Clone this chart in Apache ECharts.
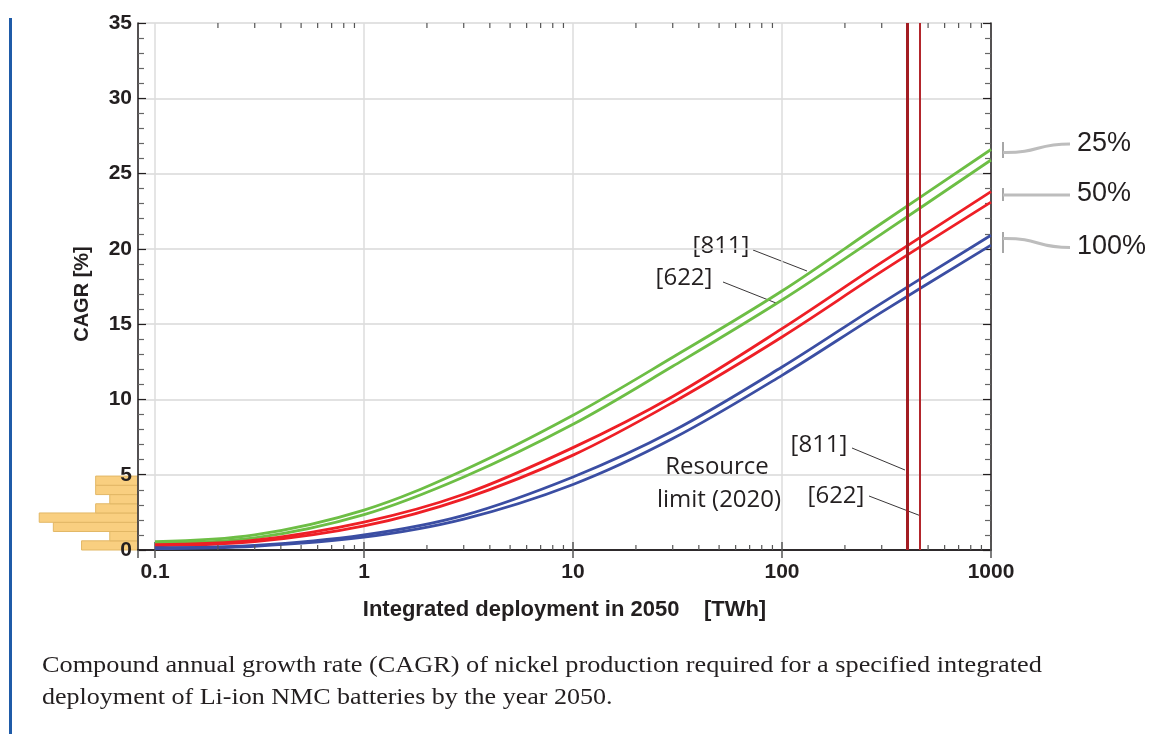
<!DOCTYPE html>
<html>
<head>
<meta charset="utf-8">
<script src="https://cdn.jsdelivr.net/npm/echarts@6/dist/echarts.min.js"></script>
<style>
html,body{margin:0;padding:0;background:#fff;}
#chart{width:1153px;height:734px;}
</style>
</head>
<body>
<div id="chart"></div>
<script>
// ---- data ----
const deployment = [0.1, 0.3, 1, 3, 10, 30, 100, 300, 1000];           // TWh
const green811 = [0.55, 1.0, 2.65, 5.3, 8.95, 12.8, 17.2, 21.7, 26.6];   // 25% (upper)
const green622 = [0.45, 0.8, 2.35, 4.85, 8.35, 12.2, 16.6, 21.0, 25.9];  // 25% (lower)
const red811   = [0.35, 0.65, 1.85, 3.7, 6.8, 10.2, 14.7, 19.1, 23.8];   // 50%
const red622   = [0.28, 0.55, 1.6, 3.4, 6.3, 9.8, 14.15, 18.5, 23.1];
const blue811  = [0.15, 0.3, 1.0, 2.3, 4.85, 7.9, 12.15, 16.4, 20.9];    // 100%
const blue622  = [0.1, 0.25, 0.85, 2.05, 4.35, 7.4, 11.6, 15.8, 20.25];
const resourceLimits = [396, 457];                 // [811], [622] resource limit (2020), TWh
const histEdges  = [0, 0.61, 1.23, 1.84, 2.46, 3.07, 3.68, 4.3, 4.91]; // CAGR bins [%]
const histCounts = [4, 2, 6, 7, 3, 2, 3, 3];
const minorXTicks = [0.2,0.3,0.4,0.5,0.6,0.7,0.8,0.9, 2,3,4,5,6,7,8,9, 20,30,40,50,60,70,80,90, 200,300,400,500,600,700,800,900];
const yTicks = { min: 0, max: 35, interval: 5 };
const xMin = 0.0829, xMax = 1000;

const INK = '#231f20';
const GREEN = '#6dbe45', RED = '#ee1f26', BLUE = '#3b4ea3';

function pairs(ys){ return deployment.map((x,i)=>[x, ys[i]]); }
function lineSeries(ys, color){
  return { type:'line', xAxisIndex:0, yAxisIndex:0, data: pairs(ys), smooth:0.35, showSymbol:false,
    lineStyle:{color:color, width:2.8}, z:3, silent:true };
}
function xLabel(v){
  const l = Math.log10(v);
  if (Math.abs(l - Math.round(l)) > 1e-6) return '';
  return v < 1 ? v.toFixed(1) : String(Math.round(v));
}

const chart = echarts.init(document.getElementById('chart'), null, {renderer:'canvas'});

const option = {
  animation: false,
  backgroundColor: '#fff',
  grid: [
    { left: 138, right: 162, top: 23, bottom: 184 },
    { left: 11, width: 127, top: 23, bottom: 184 }
  ],
  xAxis: [
    { type:'log', gridIndex:0, logBase:10, min:xMin, max:xMax, position:'bottom',
      name:'Integrated deployment in 2050    [TWh]', nameLocation:'middle', nameGap:49,
      nameTextStyle:{fontFamily:'Liberation Sans', fontWeight:'bold', fontSize:22, color:INK},
      axisLine:{show:true, lineStyle:{color:INK, width:1.5}},
      axisTick:{show:true, inside:true, length:8, lineStyle:{color:'#555', width:1.5}},
      axisLabel:{showMinLabel:false, formatter:xLabel, margin:12, fontFamily:'Liberation Sans', fontWeight:'bold', fontSize:21, color:INK},
      splitLine:{show:true, lineStyle:{color:'#dcdcdc', width:1.5}} },
    { type:'log', gridIndex:0, logBase:10, min:xMin, max:xMax, position:'top',
      axisLine:{show:true, lineStyle:{color:INK, width:1.5}},
      axisTick:{show:true, inside:true, length:8, lineStyle:{color:'#555', width:1.5}},
      axisLabel:{show:false}, splitLine:{show:false} },
    { type:'value', gridIndex:1, inverse:true, min:0, max:9, show:false }
  ],
  yAxis: [
    { type:'value', gridIndex:0, min:yTicks.min, max:yTicks.max, interval:yTicks.interval,
      name:'CAGR [%]', nameLocation:'middle', nameGap:46, nameRotate:90,
      nameTextStyle:{fontFamily:'Liberation Sans', fontWeight:'bold', fontSize:20, color:INK, padding:[0,15,0,0]},
      axisLine:{show:true, lineStyle:{color:INK, width:1.5}},
      axisTick:{show:true, inside:true, length:8, lineStyle:{color:INK, width:1.2}},
      minorTick:{show:true, splitNumber:5, length:6, lineStyle:{color:'#666', width:1.2}},
      axisLabel:{margin:6, fontFamily:'Liberation Sans', fontWeight:'bold', fontSize:21, color:INK},
      splitLine:{show:true, lineStyle:{color:'#d9d9d9', width:1.5}} },
    { type:'value', gridIndex:0, min:yTicks.min, max:yTicks.max, interval:yTicks.interval, position:'right',
      axisLine:{show:true, lineStyle:{color:INK, width:1.5}},
      axisTick:{show:true, inside:true, length:8, lineStyle:{color:INK, width:1.2}},
      minorTick:{show:true, splitNumber:5, length:6, lineStyle:{color:'#666', width:1.2}},
      axisLabel:{show:false}, splitLine:{show:false} },
    { type:'value', gridIndex:1, min:yTicks.min, max:yTicks.max, show:false }
  ],
  series: [
    // histogram to the left of the plot
    { type:'custom', xAxisIndex:2, yAxisIndex:2, z:-1, silent:true,
      data: histCounts.map((c,i)=>[c, histEdges[i], histEdges[i+1]]),
      encode:{x:0, y:[1,2]},
      renderItem:function(params, api){
        const pHi = api.coord([api.value(0), api.value(2)]);
        const pLo = api.coord([0, api.value(1)]);
        return { type:'rect',
          shape:{ x:pHi[0], y:pHi[1], width:pLo[0]-pHi[0], height:pLo[1]-pHi[1] },
          style:{ fill:'#f9cf80', stroke:'#e2b765', lineWidth:1 } };
      } },
    // minor log ticks (bottom & top)
    { type:'custom', xAxisIndex:0, yAxisIndex:0, z:4, silent:true,
      data: minorXTicks.map(v=>[v, 0]),
      renderItem:function(params, api){
        const v = api.value(0);
        const b = api.coord([v, yTicks.min]);
        const t = api.coord([v, yTicks.max]);
        return { type:'group', children:[
          { type:'line', shape:{x1:b[0], y1:b[1], x2:b[0], y2:b[1]-5}, style:{stroke:'#555', lineWidth:1.2} },
          { type:'line', shape:{x1:t[0], y1:t[1], x2:t[0], y2:t[1]+5}, style:{stroke:'#555', lineWidth:1.2} }
        ]};
      } },
    lineSeries(green811, GREEN),
    lineSeries(green622, GREEN),
    lineSeries(red811, RED),
    lineSeries(red622, RED),
    lineSeries(blue811, BLUE),
    lineSeries(blue622, BLUE),
    // resource limits
    { type:'line', xAxisIndex:0, yAxisIndex:0, data:[], z:5, silent:true,
      markLine:{ silent:true, symbol:['none','none'], label:{show:false},
        data:[
          { xAxis: resourceLimits[0], lineStyle:{color:'#a31c22', width:3, type:'solid'} },
          { xAxis: resourceLimits[1], lineStyle:{color:'#b3262c', width:2, type:'solid'} }
        ] } }
  ],
  graphic: [
    // left blue rule
    { type:'rect', shape:{x:9, y:18, width:3, height:716}, style:{fill:'#1f5ba8'}, silent:true },
    // annotations on curves
    { type:'text', x:721, y:246, style:{text:'[811]', fontFamily:'Open Sans', fontSize:24, fill:INK, textAlign:'center', textVerticalAlign:'middle'} },
    { type:'line', shape:{x1:753, y1:250, x2:807, y2:271}, style:{stroke:INK, lineWidth:0.9} },
    { type:'text', x:684, y:278, style:{text:'[622]', fontFamily:'Open Sans', fontSize:24, fill:INK, textAlign:'center', textVerticalAlign:'middle'} },
    { type:'line', shape:{x1:723, y1:282, x2:776, y2:303}, style:{stroke:INK, lineWidth:0.9} },
    { type:'text', x:819, y:445, style:{text:'[811]', fontFamily:'Open Sans', fontSize:24, fill:INK, textAlign:'center', textVerticalAlign:'middle'} },
    { type:'line', shape:{x1:852, y1:448, x2:905, y2:470}, style:{stroke:INK, lineWidth:0.9} },
    { type:'text', x:836, y:496, style:{text:'[622]', fontFamily:'Open Sans', fontSize:24, fill:INK, textAlign:'center', textVerticalAlign:'middle'} },
    { type:'line', shape:{x1:869, y1:496, x2:921, y2:516}, style:{stroke:INK, lineWidth:0.9} },
    { type:'text', x:717, y:467, style:{text:'Resource', fontFamily:'Open Sans', fontSize:24, fill:INK, textAlign:'center', textVerticalAlign:'middle'} },
    { type:'text', x:719, y:500, style:{text:'limit (2020)', fontFamily:'Open Sans', fontSize:24, fill:INK, textAlign:'center', textVerticalAlign:'middle'} },
    // right-side scenario labels
    { type:'line', shape:{x1:1003, y1:142, x2:1003, y2:158}, style:{stroke:'#8a8a8a', lineWidth:1.5} },
    { type:'bezierCurve', shape:{x1:1003, y1:152.5, cpx1:1040, cpy1:153, cpx2:1035, cpy2:144, x2:1070, y2:144}, style:{stroke:'#bdbdbd', lineWidth:3, fill:null} },
    { type:'line', shape:{x1:1003, y1:188, x2:1003, y2:201}, style:{stroke:'#8a8a8a', lineWidth:1.5} },
    { type:'line', shape:{x1:1003, y1:195, x2:1070, y2:195}, style:{stroke:'#bdbdbd', lineWidth:3} },
    { type:'line', shape:{x1:1003, y1:232, x2:1003, y2:253}, style:{stroke:'#8a8a8a', lineWidth:1.5} },
    { type:'bezierCurve', shape:{x1:1003, y1:238.5, cpx1:1040, cpy1:238, cpx2:1035, cpy2:247.5, x2:1070, y2:247.5}, style:{stroke:'#bdbdbd', lineWidth:3, fill:null} },
    { type:'text', x:1077, y:144, style:{text:'25%', fontFamily:'Liberation Sans', fontSize:27, fill:INK, textAlign:'left', textVerticalAlign:'middle'} },
    { type:'text', x:1077, y:194, style:{text:'50%', fontFamily:'Liberation Sans', fontSize:27, fill:INK, textAlign:'left', textVerticalAlign:'middle'} },
    { type:'text', x:1077, y:247, style:{text:'100%', fontFamily:'Liberation Sans', fontSize:27, fill:INK, textAlign:'left', textVerticalAlign:'middle'} },
    // caption
    { type:'text', x:42, y:666, scaleX:1.095, style:{text:'Compound annual growth rate (CAGR) of nickel production required for a specified integrated', fontFamily:'Liberation Serif', fontSize:24, fill:INK, textAlign:'left', textVerticalAlign:'middle'} },
    { type:'text', x:42, y:698, scaleX:1.085, style:{text:'deployment of Li-ion NMC batteries by the year 2050.', fontFamily:'Liberation Serif', fontSize:24, fill:INK, textAlign:'left', textVerticalAlign:'middle'} }
  ]
};
chart.setOption(option);
</script>
</body>
</html>
